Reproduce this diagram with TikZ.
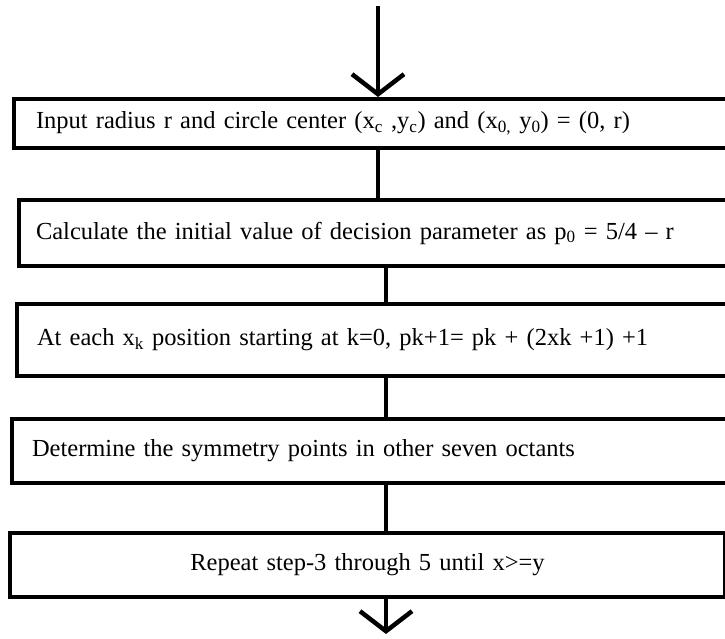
\documentclass[tikz,border=0pt]{standalone}
\usepackage{fontspec}
\setmainfont{Liberation Serif}
\usetikzlibrary{arrows.meta}

\tikzset{
  stepbox/.style={draw, line width=4pt, anchor=north west, inner ysep=2pt,
    font=\fontsize{24.5}{28}\selectfont},
  flowline/.style={line width=3.5pt},
  flowarrow/.style={line width=3.5pt,
    -{Straight Barb[length=20pt,width=52pt,line width=4.5pt]}},
}

\begin{document}
\begin{tikzpicture}[x=1pt, y=-1pt]
  \useasboundingbox (0,0) rectangle (725,638);
  \clip (0,0) rectangle (725,638);

  % steps of the algorithm
  \node[stepbox, align=left, inner xsep=22pt, text width=690pt, minimum height=49pt]
    (input) at (12,97)
    {Input radius r and circle center (x\textsubscript{c} ,y\textsubscript{c}) and (x\textsubscript{0,} y\textsubscript{0}) = (0, r)};
  \node[stepbox, align=left, inner xsep=17pt, text width=700pt, minimum height=66pt]
    (initial) at (17,198)
    {Calculate the initial value of decision parameter as p\textsubscript{0} = 5/4 -- r};
  \node[stepbox, align=left, inner xsep=20pt, text width=700pt, minimum height=72pt]
    (each) at (15,302)
    {At each x\textsubscript{k} position starting at k=0, pk+1= pk + (2xk +1) +1};
  \node[stepbox, align=left, inner xsep=20pt, text width=700pt, minimum height=64pt]
    (symmetry) at (10,417)
    {Determine the symmetry points in other seven octants};
  \node[stepbox, align=center, inner xsep=10pt, text width=695pt, minimum height=64pt]
    (repeat) at (8,531)
    {Repeat step-3 through 5 until x>=y};

  % connectors
  \coordinate (start) at (378,6);
  \coordinate (stop) at (386,634);
  \draw[flowarrow] (start) -- (input.north -| start);
  \draw[flowline] (input.south -| start) -- (initial.north -| start);
  \draw[flowline] (initial.south -| stop) -- (each.north -| stop);
  \draw[flowline] (each.south -| stop) -- (symmetry.north -| stop);
  \draw[flowline] (symmetry.south -| stop) -- (repeat.north -| stop);
  \draw[flowarrow] (repeat.south -| stop) -- (stop);
\end{tikzpicture}
\end{document}
